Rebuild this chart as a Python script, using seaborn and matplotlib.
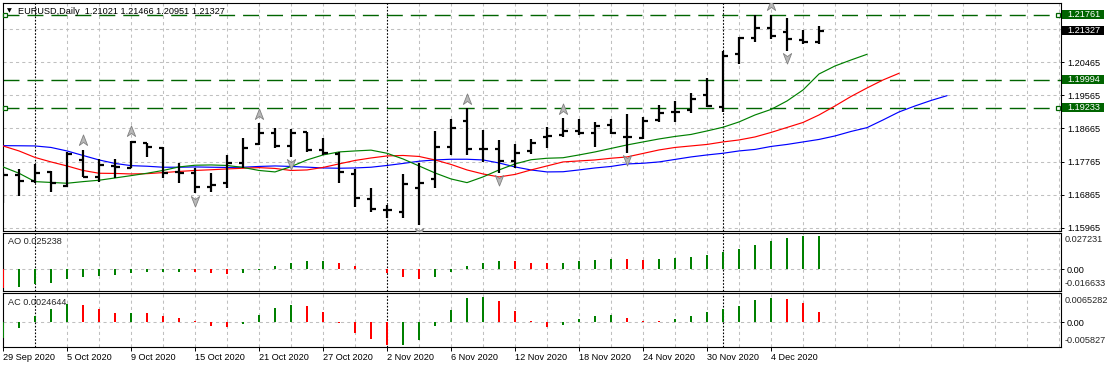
import numpy as np
import pandas as pd
import matplotlib
matplotlib.use("Agg")
import matplotlib.pyplot as plt
import matplotlib.transforms as mtransforms
from matplotlib.patches import Rectangle
from matplotlib.path import Path
import seaborn as sns

# ---------------- data ----------------
title_text = "EURUSD,Daily  1.21021 1.21466 1.20951 1.21327"
date_labels = ["29 Sep 2020", "5 Oct 2020", "9 Oct 2020", "15 Oct 2020", "21 Oct 2020",
               "27 Oct 2020", "2 Nov 2020", "6 Nov 2020", "12 Nov 2020", "18 Nov 2020",
               "24 Nov 2020", "30 Nov 2020", "4 Dec 2020"]
date_label_bars = [0, 4, 8, 12, 16, 20, 24, 28, 32, 36, 40, 44, 48]
month_start_bars = [2, 24, 45]

opens = [1.17318, 1.17400, 1.17245, 1.17490, 1.17101, 1.17808, 1.17354, 1.17645, 1.17599, 1.18262,
         1.18126, 1.17490, 1.17446, 1.17082, 1.17174, 1.17718, 1.18235, 1.18534, 1.18197, 1.18562,
         1.18080, 1.17971, 1.17427, 1.16739, 1.16448, 1.16394, 1.17038, 1.17283, 1.18170, 1.18877,
         1.18107, 1.18099, 1.17781, 1.18053, 1.18425, 1.18488, 1.18605, 1.18551, 1.18760, 1.18425,
         1.18406, 1.18896, 1.19122, 1.19168, 1.19576, 1.19258, 1.20683, 1.21135, 1.21407, 1.21281,
         1.21072, 1.21021]
highs = [1.17490, 1.17555, 1.17700, 1.17509, 1.18018, 1.18080, 1.17827, 1.17827, 1.18325, 1.18262,
         1.18170, 1.17735, 1.17582, 1.17463, 1.17944, 1.18398, 1.18806, 1.18670, 1.18643, 1.18578,
         1.18398, 1.18034, 1.17563, 1.17038, 1.16584, 1.17419, 1.17718, 1.18597, 1.18915, 1.19214,
         1.18624, 1.18352, 1.18243, 1.18371, 1.18692, 1.18942, 1.18923, 1.18834, 1.18915, 1.19059,
         1.18969, 1.19304, 1.19421, 1.19622, 1.20030, 1.20773, 1.21162, 1.21752, 1.21761, 1.21662,
         1.21344, 1.21466]
lows = [1.16630, 1.16837, 1.17174, 1.16946, 1.17066, 1.17338, 1.17218, 1.17327, 1.17582, 1.17882,
        1.17310, 1.17191, 1.16902, 1.16946, 1.17038, 1.17582, 1.18216, 1.18126, 1.17898, 1.18034,
        1.17944, 1.17174, 1.16521, 1.16402, 1.16239, 1.16239, 1.16040, 1.17055, 1.17944, 1.17944,
        1.17762, 1.17463, 1.17582, 1.17963, 1.18134, 1.18425, 1.18488, 1.18170, 1.18515, 1.18007,
        1.18379, 1.18834, 1.18850, 1.19078, 1.19241, 1.19122, 1.20419, 1.21009, 1.21091, 1.20781,
        1.20955, 1.20951]
closes = [1.17400, 1.17245, 1.17446, 1.17191, 1.17971, 1.17354, 1.17672, 1.17626, 1.18306, 1.18154,
          1.17463, 1.17463, 1.17082, 1.17128, 1.17718, 1.18143, 1.18534, 1.18197, 1.18534, 1.18080,
          1.17990, 1.17490, 1.16766, 1.16467, 1.16448, 1.17155, 1.17191, 1.18170, 1.18687, 1.18107,
          1.18107, 1.17781, 1.18007, 1.18279, 1.18461, 1.18605, 1.18551, 1.18741, 1.18551, 1.18425,
          1.18877, 1.19095, 1.19122, 1.19467, 1.19277, 1.20637, 1.21118, 1.21407, 1.21189, 1.21099,
          1.21009, 1.21327]

# Alligator lines (jaw shifted 8, teeth shifted 5, lips shifted 3 bars forward)
jaw_blue = [1.18197, 1.18194, 1.18189, 1.18148, 1.18053, 1.17930, 1.17808, 1.17713, 1.17653, 1.17637,
            1.17610, 1.17610, 1.17618, 1.17610, 1.17604, 1.17610, 1.17631, 1.17645, 1.17631, 1.17612,
            1.17590, 1.17582, 1.17590, 1.17610, 1.17658, 1.17713, 1.17773, 1.17808, 1.17827, 1.17827,
            1.17808, 1.17726, 1.17618, 1.17536, 1.17482, 1.17487, 1.17536, 1.17590, 1.17631, 1.17699,
            1.17718, 1.17754, 1.17822, 1.17890, 1.17944, 1.17990, 1.18053, 1.18094, 1.18175, 1.18230,
            1.18298, 1.18366, 1.18461, 1.18583, 1.18687, 1.18896, 1.19114, 1.19277, 1.19426, 1.19557]
teeth_red = [1.18189, 1.18053, 1.17876, 1.17754, 1.17645, 1.17522, 1.17446, 1.17441, 1.17427, 1.17435,
             1.17463, 1.17495, 1.17522, 1.17541, 1.17563, 1.17582, 1.17599, 1.17577, 1.17522, 1.17536,
             1.17604, 1.17700, 1.17794, 1.17862, 1.17917, 1.17930, 1.17903, 1.17808, 1.17686, 1.17536,
             1.17427, 1.17346, 1.17414, 1.17536, 1.17645, 1.17754, 1.17781, 1.17808, 1.17854, 1.17890,
             1.17985, 1.18080, 1.18148, 1.18189, 1.18230, 1.18298, 1.18352, 1.18434, 1.18556, 1.18692,
             1.18828, 1.19032, 1.19277, 1.19535, 1.19766, 1.19984, 1.20166]
lips_green = [1.17618, 1.17446, 1.17218, 1.17196, 1.17174, 1.17218, 1.17256, 1.17318, 1.17381, 1.17446,
              1.17522, 1.17618, 1.17664, 1.17672, 1.17658, 1.17604, 1.17522, 1.17482, 1.17626, 1.17808,
              1.17944, 1.18026, 1.18053, 1.18075, 1.17990, 1.17835, 1.17645, 1.17454, 1.17291, 1.17191,
              1.17346, 1.17536, 1.17700, 1.17814, 1.17854, 1.17868, 1.17944, 1.18026, 1.18121, 1.18216,
              1.18298, 1.18379, 1.18447, 1.18502, 1.18597, 1.18698, 1.18842, 1.19032, 1.19182, 1.19413,
              1.19712, 1.20147, 1.20365, 1.20528, 1.20683]

fractal_up_bars = [5, 8, 16, 29, 35, 48]
fractal_down_bars = [12, 18, 26, 31, 39, 49]

level_lines = [1.21761, 1.19994, 1.19233]
level_anchor_lines = [1.21761, 1.19233]
price_ticks = [1.15965, 1.16865, 1.17765, 1.18665, 1.19565, 1.20465, 1.21365]

ao_values = [-0.0145, -0.0137, -0.01145, -0.01017, -0.0074, -0.00562, -0.00484, -0.00405, -0.0028, -0.0022,
             -0.0020, -0.0017, -0.0021, -0.0028, -0.0036, -0.0028, -0.0004, 0.00256, 0.00484, 0.00633,
             0.00661, 0.00484, 0.00256, 0.0005, -0.0030, -0.0056, -0.0074, -0.0056, -0.0018, 0.00256,
             0.00484, 0.00661, 0.00633, 0.0048, 0.0047, 0.00505, 0.00654, 0.00704, 0.00818, 0.00796,
             0.00704, 0.00811, 0.0086, 0.0096, 0.0111, 0.01315, 0.01564, 0.01841, 0.02147, 0.02375,
             0.0250, 0.025238]
ao_first_up = False
ao_scale_labels = ["0.027231", "-0.016633"]
ao_scale_values = [0.027231, -0.016633]

ac_values = [-0.00403, -0.00140, 0.00147, 0.00320, 0.00438, 0.00419, 0.00320, 0.00216, 0.00226, 0.00216,
             0.00147, 0.00090, 0.00025, -0.00099, -0.00124, -0.00041, 0.00173, 0.00345, 0.00419, 0.00394,
             0.00246, -0.00023, -0.00263, -0.00428, -0.00567, -0.00557, -0.00444, -0.00090, 0.00297, 0.00585,
             0.00608, 0.00518, 0.00272, 0.00025, -0.00124, -0.00064, 0.00074, 0.00147, 0.00173, 0.00099,
             0.00025, 0.00023, 0.00074, 0.00147, 0.00246, 0.00320, 0.00394, 0.00539, 0.00590, 0.00564,
             0.00474, 0.0024644]
ac_first_up = True
ac_scale_labels = ["0.0065282", "-0.005827"]
ac_scale_values = [0.0065282, -0.005827]

# ---------------- style ----------------
sns.set_style("white")
plt.rcParams['font.family'] = ['Liberation Sans', 'DejaVu Sans']
FS = 6.6
GRID_C = '#c0c0c0'
GRID_LS = (0, (3, 3))
LEVEL_C = '#006400'
UP_C = '#008000'
DN_C = '#ff0000'

W, H = 1107, 368
fig = plt.figure(figsize=(W / 100, H / 100), dpi=100)
fig.patch.set_facecolor('white')


def px_box(x0, y0, x1, y1):
    return [x0 / W, 1 - y1 / H, (x1 - x0) / W, (y1 - y0) / H]


ax = fig.add_axes(px_box(2.7, 2.7, 1061, 231))
ax_ao = fig.add_axes(px_box(2.7, 232.7, 1061, 291))
ax_ac = fig.add_axes(px_box(2.7, 293.3, 1061, 347.3))

n = len(opens)
idx = np.arange(n)
x_lo, x_hi = -0.019, 66.125
grid_pos = [g for g in range(2, 67, 2) if g not in month_start_bars]

# ---------------- main price panel ----------------
ax.vlines(idx, lows, highs, colors='black', linewidth=1.6, zorder=4)
ax.hlines(opens, idx - 0.28, idx, colors='black', linewidth=1.6, zorder=4)
ax.hlines(closes, idx, idx + 0.30, colors='black', linewidth=1.6, zorder=4)

lines_df = {
    '#0000ff': jaw_blue,
    '#ff0000': teeth_red,
    '#008000': lips_green,
}
for col, vals in lines_df.items():
    df = pd.DataFrame({'bar': np.arange(len(vals)), 'price': vals})
    sns.lineplot(data=df, x='bar', y='price', ax=ax, color=col, linewidth=0.85,
                 errorbar=None, legend=False, zorder=3)

for lev in level_lines:
    ax.axhline(lev, color=LEVEL_C, linewidth=1.0, dashes=(11.5, 5.75), zorder=2.5)

# fractal arrows
up_path = Path([(0, 1), (0.75, -0.9), (0, -0.35), (-0.75, -0.9), (0, 1)],
               [Path.MOVETO, Path.LINETO, Path.LINETO, Path.LINETO, Path.CLOSEPOLY])
dn_path = Path([(0, -1), (0.75, 0.9), (0, 0.35), (-0.75, 0.9), (0, -1)],
               [Path.MOVETO, Path.LINETO, Path.LINETO, Path.LINETO, Path.CLOSEPOLY])
up_tr = ax.transData + mtransforms.ScaledTranslation(0, 0.095, fig.dpi_scale_trans)
dn_tr = ax.transData + mtransforms.ScaledTranslation(0, -0.078, fig.dpi_scale_trans)
ax.plot(fractal_up_bars, [highs[i] for i in fractal_up_bars], linestyle='none', marker=up_path,
        ms=8, mfc='#b8b8b8', mec='#808080', mew=0.6, transform=up_tr, zorder=5)
ax.plot(fractal_down_bars, [lows[i] for i in fractal_down_bars], linestyle='none', marker=dn_path,
        ms=8, mfc='#b8b8b8', mec='#808080', mew=0.6, transform=dn_tr, zorder=5)

ax.set_xlim(x_lo, x_hi)
ax.set_ylim(1.158746, 1.220868)
ax.yaxis.tick_right()
ax.set_yticks(price_ticks)
ax.set_yticklabels(['' if abs(v - 1.21365) < 1e-9 else f"{v:.5f}" for v in price_ticks])
ax.tick_params(axis='y', which='major', right=True, left=False, labelright=True, labelleft=False,
               length=2.5, width=0.7, pad=2.2, labelsize=FS, colors='black')
ax.grid(True, which='major', axis='y', color=GRID_C, linestyle=GRID_LS, linewidth=0.75)

tr_main = mtransforms.blended_transform_factory(ax.transAxes, ax.transData)
for lev in level_anchor_lines:
    ax.plot([0.0022, 0.9974], [lev, lev], linestyle='none', marker='s', ms=3.2, mfc='white',
            mec=LEVEL_C, mew=0.9, transform=tr_main, clip_on=False, zorder=6)


def price_box(a, val, txt, fc):
    y0, y1 = a.get_ylim()
    upp = (y1 - y0) / a.bbox.height
    wpx = a.bbox.width
    tr = mtransforms.blended_transform_factory(a.transAxes, a.transData)
    a.add_patch(Rectangle((1 + 1.2 / wpx, val - 4.5 * upp), 42 / wpx, 9 * upp, transform=tr,
                          facecolor=fc, edgecolor='none', clip_on=False, zorder=7))
    a.text(1 + 6.0 / wpx, val, txt, transform=tr, color='white', fontsize=FS, va='center',
           ha='left', clip_on=False, zorder=8)


for lev in level_lines:
    price_box(ax, lev, f"{lev:.5f}", LEVEL_C)
price_box(ax, closes[-1], f"{closes[-1]:.5f}", 'black')

ax.text(0.0147, 0.9636, title_text, transform=ax.transAxes, fontsize=FS, va='center', ha='left',
        color='black', zorder=8)
ax.text(0.0064, 0.9636, '\u25bc', transform=ax.transAxes, fontsize=4.5, va='center', ha='center',
        color='black', family='DejaVu Sans', zorder=8)


# ---------------- oscillators ----------------
def bar_colors(vals, first_up):
    cols = [UP_C if first_up else DN_C]
    for i in range(1, len(vals)):
        cols.append(UP_C if vals[i] > vals[i - 1] else DN_C)
    return cols


def osc_panel(a, vals, first_up, ylim, name, name_y, scale_vals, scale_labels, offsets):
    a.bar(idx, vals, width=0.15, color=bar_colors(vals, first_up), linewidth=0, zorder=3)
    a.set_ylim(*ylim)
    a.yaxis.tick_right()
    a.set_yticks([0.0])
    a.set_yticklabels(['0.00'])
    a.tick_params(axis='y', which='major', right=True, left=False, labelright=True, labelleft=False,
                  length=2.5, width=0.7, pad=1.6, labelsize=FS, colors='black')
    a.grid(True, which='major', axis='y', color=GRID_C, linestyle=GRID_LS, linewidth=0.75)
    tr = mtransforms.blended_transform_factory(a.transAxes, a.transData)
    for v, lab, off in zip(scale_vals, scale_labels, offsets):
        a.annotate(lab, xy=(1, v), xycoords=tr, xytext=(2.9, off), textcoords='offset points',
                   fontsize=FS, va='center', ha='left', annotation_clip=False)
    a.text(0.005, name_y, name, transform=a.transAxes, fontsize=FS, va='center', ha='left', zorder=8)


osc_panel(ax_ao, ao_values, ao_first_up, (-0.01644, 0.02773), f"AO {ao_values[-1]:.6f}", 0.846,
          ao_scale_values, ao_scale_labels, (-4.75, 5.76))
osc_panel(ax_ac, ac_values, ac_first_up, (-0.00623, 0.00707), f"AC {ac_values[-1]:.7f}", 0.826,
          ac_scale_values, ac_scale_labels, (-3.74, 4.0))

# ---------------- shared x decorations ----------------
for a in (ax, ax_ao, ax_ac):
    a.set_xlim(x_lo, x_hi)
    a.set_facecolor('white')
    a.set_axisbelow(True)
    a.set_xlabel('')
    a.set_ylabel('')
    for s in a.spines.values():
        s.set_visible(True)
        s.set_color('black')
        s.set_linewidth(0.8)
    a.xaxis.remove_overlapping_locs = False
    a.set_xticks(grid_pos, minor=True)
    a.grid(True, which='minor', axis='x', color=GRID_C, linestyle=GRID_LS, linewidth=0.75)
    a.tick_params(axis='x', which='minor', length=0)
    for m in month_start_bars:
        a.axvline(m, color='black', linewidth=0.8, linestyle=(0, (1.5, 1.5)), zorder=2)

for a in (ax, ax_ao):
    a.set_xticks([])
    a.tick_params(axis='x', which='major', bottom=False, labelbottom=False)

ax_ac.set_xticks(date_label_bars)
ax_ac.set_xticklabels(date_labels)
ax_ac.tick_params(axis='x', which='major', bottom=True, length=3, width=0.7, pad=1.0,
                  labelsize=FS, direction='out', colors='black')
for lbl in ax_ac.get_xticklabels():
    lbl.set_horizontalalignment('left')

fig.savefig('out.png', dpi=100, facecolor='white')
